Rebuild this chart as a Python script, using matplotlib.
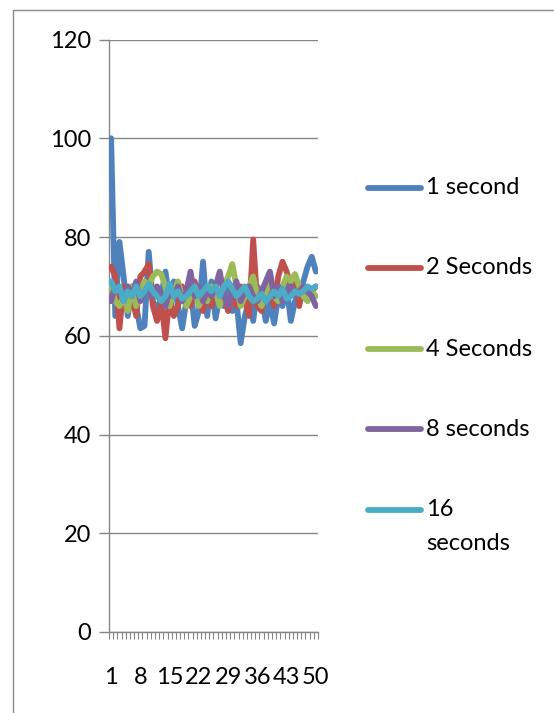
import matplotlib
matplotlib.use("Agg")
import matplotlib.pyplot as plt
from matplotlib.lines import Line2D
from matplotlib.patches import Rectangle

# Response values (50 runs) for each sampling interval
one_second = [100, 64, 79, 72, 64, 70, 66, 61.5, 62, 77,
              67, 65, 68, 73, 67, 71, 66, 61.5, 67, 70,
              62, 65, 75, 64, 71, 63.5, 68, 66, 71, 65,
              67, 58.5, 64, 67, 63, 70, 68, 63, 67, 62.5,
              68, 66, 70, 63, 67, 68, 71, 74, 76, 73]
two_seconds = [74, 72, 61.5, 70, 65, 68, 64, 72, 73, 74.5,
               66, 63, 67, 59.5, 68, 64, 66, 70, 68, 66,
               71, 67, 65, 69, 66, 70, 67, 68, 65, 68,
               66, 70, 67, 64, 79.5, 66, 65, 70, 69, 66,
               72, 75, 73, 70, 72, 66, 70, 68, 69, 70]
four_seconds = [70, 67, 66, 68, 65, 70, 66, 69, 71, 70,
                72, 73, 72.5, 70, 66, 69, 71, 68, 66, 68,
                70, 66, 68, 67, 70, 69, 66, 70, 72, 74.5,
                70, 66, 68, 70, 72, 68, 66, 69, 71, 68,
                67, 70, 72, 71, 72.5, 70, 68, 67, 69, 68]
eight_seconds = [67, 70, 69, 67, 70, 68, 71, 67, 69, 70,
                 68, 70, 68, 66, 69, 68, 70, 67, 69, 73,
                 68, 70, 67, 69, 68, 70, 73, 68, 66, 69,
                 71, 67, 69, 70, 68, 67, 69, 71, 73, 68,
                 70, 67, 69, 70, 68, 69, 70, 69, 68, 66]
sixteen_seconds = [71, 69, 70, 67, 69, 68, 70, 68, 69, 70.5,
                   69, 68, 67, 68, 70.5, 68, 69, 67.5, 68, 69,
                   70, 68, 69, 70, 69, 70, 68, 70, 71, 69.5,
                   68, 69, 70, 68, 67, 67.5, 68.5, 67, 68, 69,
                   68, 69.5, 67.5, 68, 69, 68.5, 69, 70, 69.5, 70]

series_names = ["1 second", "2 Seconds", "4 Seconds", "8 seconds", "16\nseconds"]
series_values = [one_second, two_seconds, four_seconds, eight_seconds, sixteen_seconds]
series_colors = ["#4F81BD", "#C0504D", "#9BBB59", "#8064A2", "#4BACC6"]

x_labels = [1, 8, 15, 22, 29, 36, 43, 50]
y_ticks = [0, 20, 40, 60, 80, 100, 120]

FS = 17
LW = 4.2
W, H = 554, 713
plt.rcParams["font.family"] = ["Lato", "DejaVu Sans"]
fig = plt.figure(figsize=(W / 100, H / 100), dpi=100)

# outer chart frame (runs off the right and bottom edges)
fig.patches.append(Rectangle((13 / W, -0.05), 2.0, 1 - 10 / H + 0.05,
                             transform=fig.transFigure, fill=False,
                             edgecolor="#8c8c8c", linewidth=1.0))

left, right, top, bottom = 109, 318, 39.5, 632
ax = fig.add_axes([left / W, 1 - bottom / H, (right - left) / W, (bottom - top) / H])

n = len(one_second)
xs = list(range(1, n + 1))
for vals, col in zip(series_values, series_colors):
    ax.plot(xs, vals, color=col, linewidth=LW, solid_joinstyle="round",
            solid_capstyle="round", zorder=3)

ax.set_xlim(0.5, n + 0.5)
ax.set_ylim(0, 120)

grid_col = "#868686"
for spine in ["top", "right"]:
    ax.spines[spine].set_visible(False)
ax.spines["left"].set_color(grid_col)
ax.spines["bottom"].set_color(grid_col)
ax.spines["left"].set_linewidth(1.0)
ax.spines["bottom"].set_linewidth(1.0)

ax.set_yticks(y_ticks)
ax.set_yticklabels([str(v) for v in y_ticks], fontsize=FS)
ax.tick_params(axis="y", length=7, width=1.0, color=grid_col, pad=6)
ax.yaxis.grid(True, color=grid_col, linewidth=1.0)
ax.set_axisbelow(True)

# category boundaries as minor ticks, labels every 7th category
ax.set_xticks([i + 0.5 for i in range(0, n + 1)], minor=True)
ax.set_xticks(x_labels)
ax.set_xticklabels([str(v) for v in x_labels], fontsize=FS)
ax.tick_params(axis="x", which="major", length=0, pad=25)
ax.tick_params(axis="x", which="minor", length=5, width=0.8, color=grid_col)

# legend drawn at the right of the plot
legend_y = [188, 268, 349, 429, 510]
for name, col, yy in zip(series_names, series_colors, legend_y):
    fy = 1 - yy / H
    fig.add_artist(Line2D([368 / W, 421 / W], [fy, fy], transform=fig.transFigure,
                          color=col, linewidth=LW, solid_capstyle="round"))
    first, *rest = name.split("\n")
    fig.text(426 / W, fy, first, fontsize=FS, va="center", ha="left",
             transform=fig.transFigure)
    for k, extra in enumerate(rest, start=1):
        fig.text(426 / W, fy - 33 * k / H, extra, fontsize=FS, va="center",
                 ha="left", transform=fig.transFigure)

fig.savefig("out.png", dpi=100)
